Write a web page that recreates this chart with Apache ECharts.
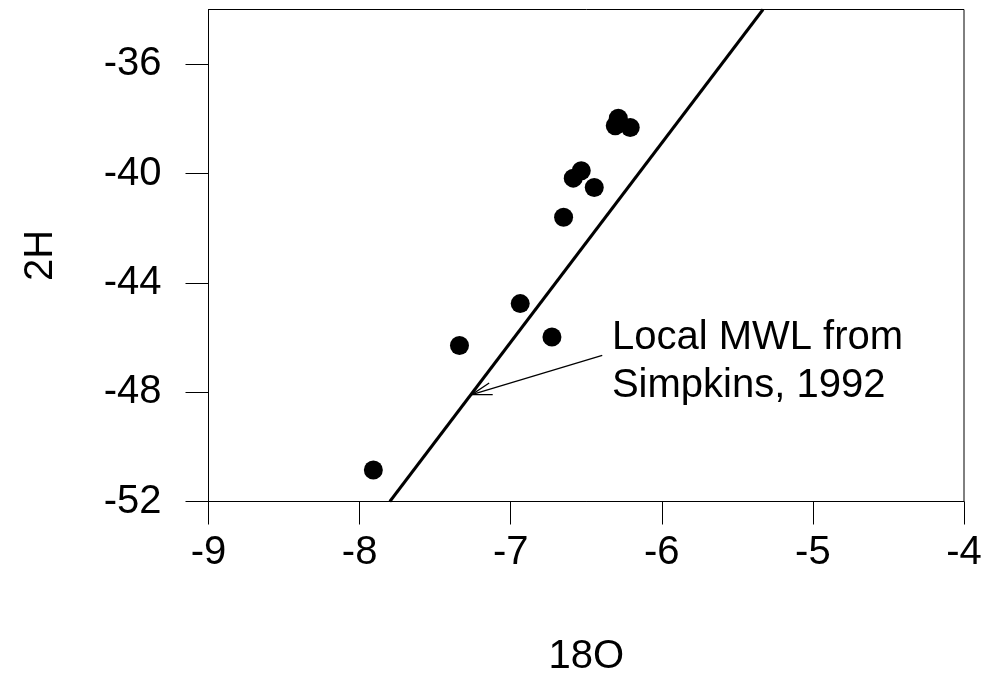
<!DOCTYPE html>
<html><head><meta charset="utf-8">
<script src="https://cdn.jsdelivr.net/npm/echarts@6/dist/echarts.min.js"></script>
<style>html,body{margin:0;padding:0;background:#fff}#c{width:997px;height:678px}</style>
</head><body><div id="c"></div>
<script>
// Data
const o18 = [-7.909, -7.339, -6.937, -6.727, -6.650, -6.586, -6.533, -6.447, -6.308, -6.288, -6.209];
const h2  = [-50.85, -46.29, -44.76, -45.98, -41.60, -40.17, -39.90, -40.51, -38.25, -37.98, -38.32];
const mwlX = [-7.80, -5.33];
const mwlY = [-52, -34];
const xTicks = [-9, -8, -7, -6, -5, -4];
const yTicks = [-52, -48, -44, -40, -36];
const arrowFrom = [-6.394, -46.65];
const arrowTo = [-7.258, -48.09];
const noteAt = [-6.33, -46.9];
const noteText = 'Local MWL from\nSimpkins, 1992';
const xName = '18O';
const yName = '2H';

const FONT = '"Liberation Sans", Arial, Helvetica, sans-serif';
const chart = echarts.init(document.getElementById('c'), null, {renderer: 'canvas'});

const pts = o18.map((x, i) => [x, h2[i]]);
const mwl = mwlX.map((x, i) => [x, mwlY[i]]);

chart.setOption({
  animation: false,
  backgroundColor: '#fff',
  grid: {left: 208.5, top: 9.5, right: 33, bottom: 176.5, show: true, borderColor: '#000', borderWidth: 1,
         containLabel: false, outerBoundsMode: 'none'},
  xAxis: {
    type: 'value', min: xTicks[0], max: xTicks[xTicks.length - 1], interval: 1,
    axisLine: {show: true, onZero: false, lineStyle: {color: '#000', width: 1}},
    axisTick: {show: true, inside: false, length: 23, lineStyle: {color: '#000', width: 1}, customValues: xTicks},
    axisLabel: {color: '#000', fontSize: 40, fontFamily: FONT, margin: 31, customValues: xTicks, showMinLabel: true, showMaxLabel: true},
    splitLine: {show: false},
    name: xName, nameLocation: 'middle', nameGap: 135,
    nameTextStyle: {color: '#000', fontSize: 40, fontFamily: FONT}
  },
  yAxis: {
    type: 'value', min: -52, max: -34, interval: 4,
    axisLine: {show: true, onZero: false, lineStyle: {color: '#000', width: 1}},
    axisTick: {show: true, inside: false, length: 23, lineStyle: {color: '#000', width: 1}, customValues: yTicks},
    axisLabel: {color: '#000', fontSize: 40, fontFamily: FONT, margin: 47, customValues: yTicks},
    splitLine: {show: false},
    name: yName, nameLocation: 'middle', nameGap: 148, nameRotate: 90,
    nameTextStyle: {color: '#000', fontSize: 40, fontFamily: FONT}
  },
  series: [
    {
      type: 'line', data: mwl, showSymbol: false, symbol: 'none',
      lineStyle: {color: '#000', width: 3}, clip: true, silent: true, z: 2
    },
    {
      type: 'scatter', data: pts, symbol: 'circle', symbolSize: 19,
      itemStyle: {color: '#000', opacity: 1}, z: 3
    },
    {
      type: 'custom', z: 4, silent: true,
      data: [[arrowFrom[0], arrowFrom[1], arrowTo[0], arrowTo[1]]],
      renderItem: function (params, api) {
        const p0 = api.coord([api.value(0), api.value(1)]);
        const p1 = api.coord([api.value(2), api.value(3)]);
        const ang = Math.atan2(p0[1] - p1[1], p0[0] - p1[0]);
        const L = 21, a = 17 * Math.PI / 180;
        const h1 = [p1[0] + L * Math.cos(ang + a), p1[1] + L * Math.sin(ang + a)];
        const h2p = [p1[0] + L * Math.cos(ang - a), p1[1] + L * Math.sin(ang - a)];
        const st = {stroke: '#000', lineWidth: 1.3, fill: null};
        return {type: 'group', children: [
          {type: 'line', shape: {x1: p0[0], y1: p0[1], x2: p1[0], y2: p1[1]}, style: st},
          {type: 'polyline', shape: {points: [h1, p1, h2p]}, style: st}
        ]};
      }
    },
    {
      type: 'custom', z: 4, silent: true,
      data: [noteAt],
      renderItem: function (params, api) {
        const p = api.coord([api.value(0), api.value(1)]);
        return {type: 'text', x: p[0], y: p[1], style: {
          text: noteText, fill: '#000', font: '40px ' + FONT,
          textAlign: 'left', textVerticalAlign: 'middle', lineHeight: 48
        }};
      }
    }
  ]
});
</script></body></html>
